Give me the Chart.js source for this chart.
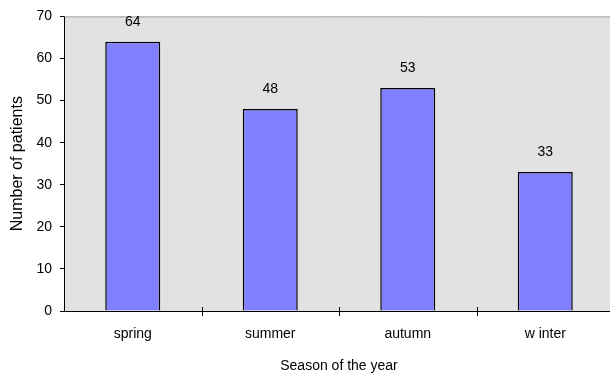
<!DOCTYPE html>
<html>
<head>
<meta charset="utf-8">
<script src="https://cdn.jsdelivr.net/npm/chart.js@4/dist/chart.umd.min.js"></script>
<style>
  html, body { margin: 0; padding: 0; background: #fff; overflow: hidden; }
  #wrap { width: 614px; height: 375px; }
</style>
</head>
<body>
<div id="wrap"><canvas id="g_season" width="614" height="375"></canvas></div>
<script>
// categories and values
const seasons = ["spring", "summer", "autumn", "w inter"];
const patients = [64, 48, 53, 33];
const yTicks = [0, 10, 20, 30, 40, 50, 60, 70];

const police = "'Liberation Sans', Arial, sans-serif";

// grey plot area, top border, crossing ticks on the x axis and the value labels
const decor = {
    id: "decor",
    beforeDraw(chart) {
        const a = chart.chartArea;
        const c = chart.ctx;
        c.save();
        c.fillStyle = "#e2e2e2";
        c.fillRect(a.left, a.top, a.right - a.left, a.bottom - a.top);
        c.strokeStyle = "#a0a0a0";
        c.lineWidth = 1;
        c.beginPath();
        c.moveTo(a.left, a.top + 0.5);
        c.lineTo(a.right, a.top + 0.5);
        c.stroke();
        c.restore();
    },
    afterDraw(chart) {
        const a = chart.chartArea;
        const c = chart.ctx;
        const x = chart.scales.x;
        c.save();
        c.strokeStyle = "#000";
        c.lineWidth = 1;
        // axis lines
        c.beginPath();
        c.moveTo(a.left + 0.5, a.top);
        c.lineTo(a.left + 0.5, a.bottom);
        c.moveTo(a.left, a.bottom + 0.5);
        c.lineTo(a.right, a.bottom + 0.5);
        // ticks between categories
        for (let i = 1; i < seasons.length; i++) {
            const px = Math.round((x.getPixelForValue(i - 1) + x.getPixelForValue(i)) / 2) + 0.5;
            c.moveTo(px, a.bottom - 4);
            c.lineTo(px, a.bottom + 5);
        }
        c.stroke();
        // values above bars
        const meta = chart.getDatasetMeta(0);
        c.fillStyle = "#000";
        c.font = "14px " + police;
        c.textAlign = "center";
        c.textBaseline = "middle";
        meta.data.forEach(function(bar, i) {
            c.fillText(String(patients[i]), bar.x, bar.y - 20);
        });
        c.restore();
    }
};

const ctx = document.getElementById("g_season").getContext("2d");
const conData = {
    labels: seasons,
    datasets: [{
        data: patients,
        backgroundColor: "#8080ff",
        borderColor: "#000",
        borderWidth: 1.5,
        categoryPercentage: 0.4,
        barPercentage: 1
    }]
};
const options = {
    responsive: false,
    animation: false,
    layout: { padding: { top: 16, right: 0, left: 0, bottom: 0 } },
    plugins: { legend: { display: false }, tooltip: { enabled: false } },
    scales: {
        x: {
            grid: { display: false },
            border: { display: false },
            ticks: { color: "#000", font: { family: police, size: 14 }, padding: 7, maxRotation: 0 },
            title: { display: true, text: "Season of the year", color: "#000", font: { family: police, size: 14 }, padding: { top: 12, bottom: 0 } },
            afterFit(s) { s.height = 64; }
        },
        y: {
            min: 0,
            max: 70,
            afterBuildTicks(s) { s.ticks = yTicks.map(v => ({ value: v })); },
            grid: { drawOnChartArea: false, color: "#000", tickLength: 4, tickColor: "#000" },
            border: { display: false },
            ticks: { color: "#000", font: { family: police, size: 14 }, padding: 8 },
            title: { display: true, text: "Number of patients", color: "#000", font: { family: police, size: 16 }, padding: { top: 8, bottom: 0 } },
            afterFit(s) { s.width = 64; }
        }
    }
};
new Chart(ctx, { type: "bar", data: conData, options: options, plugins: [decor] });
</script>
</body>
</html>
